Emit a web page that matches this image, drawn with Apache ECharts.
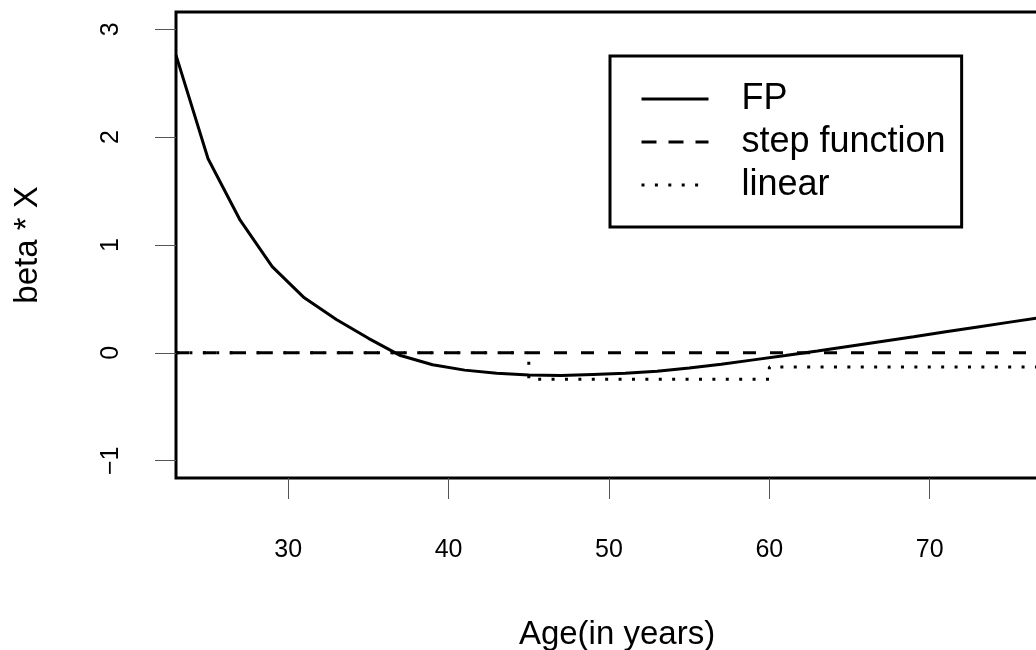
<!DOCTYPE html>
<html>
<head>
<meta charset="utf-8">
<script src="https://cdn.jsdelivr.net/npm/echarts@6/dist/echarts.min.js"></script>
<style>
  html, body { margin: 0; padding: 0; background: #fff; }
  #main { width: 1036px; height: 650px; }
</style>
</head>
<body>
<div id="main"></div>
<script>
// ages where the FP curve was evaluated
var ages = [23, 25, 27, 29, 31, 33, 35, 37, 39, 41, 43, 45, 47, 49, 51, 53, 55, 57, 59, 61, 63, 65, 67, 69, 71, 73, 75, 77, 79];
var fpValues = [2.76, 1.80, 1.23, 0.80, 0.51, 0.31, 0.135, -0.025, -0.11, -0.16, -0.19, -0.205, -0.21, -0.20, -0.19, -0.17, -0.14, -0.105, -0.065, -0.025, 0.018, 0.062, 0.106, 0.15, 0.195, 0.24, 0.285, 0.33, 0.375];
// step function: flat at zero
var stepAges = [23, 79];
var stepValues = [0, 0];
// "linear" curve as drawn (steps at 45 and 60)
var linAges = [23, 45, 45, 60, 60, 79];
var linValues = [0, 0, -0.245, -0.245, -0.13, -0.13];

var xTicks = [30, 40, 50, 60, 70];
var yTicks = [-1, 0, 1, 2, 3];
var seriesNames = ['FP', 'step function', 'linear'];

function pairs(xs, ys) {
    return xs.map(function (x, i) { return [x, ys[i]]; });
}

var font = 'Liberation Sans, Arial, Helvetica, sans-serif';
var dashed = [13, 14];
var dotted = [3, 10.4];

var chart = echarts.init(document.getElementById('main'), null, { renderer: 'canvas' });

var option = {
    backgroundColor: '#ffffff',
    animation: false,
    grid: {
        left: 176,
        top: 12,
        bottom: 172,
        width: 882,   // plot box runs past the right edge of the page
        outerBoundsMode: 'none',
        show: true,
        borderColor: '#000',
        borderWidth: 3,
        backgroundColor: 'transparent'
    },
    legend: {
        data: [
            { name: seriesNames[0], lineStyle: { width: 3, type: 'solid' } },
            { name: seriesNames[1], lineStyle: { width: 3, type: [15, 12] } },
            { name: seriesNames[2], lineStyle: { width: 3, type: dotted } }
        ],
        orient: 'vertical',
        left: 610,
        top: 56,
        selectedMode: false,
        itemWidth: 67,
        itemHeight: 36,
        itemGap: 7,
        padding: [25, 16, 24, 30],
        borderColor: '#000',
        borderWidth: 3,
        backgroundColor: '#fff',
        itemStyle: { color: 'transparent', borderWidth: 0, opacity: 0 },
        lineStyle: { width: 3, color: '#000' },
        textStyle: {
            color: '#000',
            fontFamily: font,
            fontSize: 36,
            lineHeight: 36,
            padding: [0, 0, 0, 28]
        }
    },
    xAxis: {
        type: 'value',
        min: 23,
        max: 78,
        name: 'Age(in years)',
        nameLocation: 'middle',
        nameGap: 140,
        nameTextStyle: { color: '#000', fontFamily: font, fontSize: 33 },
        axisLine: { show: false, onZero: false },
        splitLine: { show: false },
        axisTick: {
            show: true,
            length: 21,
            customValues: xTicks,
            lineStyle: { color: '#555', width: 1 }
        },
        axisLabel: {
            customValues: xTicks,
            margin: 60,
            color: '#000',
            fontFamily: font,
            fontSize: 25
        }
    },
    yAxis: {
        type: 'value',
        min: -1.16,
        max: 3.16,
        name: 'beta * X',
        nameLocation: 'middle',
        nameRotate: 90,
        nameGap: 132,
        nameTextStyle: { color: '#000', fontFamily: font, fontSize: 33 },
        axisLine: { show: false, onZero: false },
        splitLine: { show: false },
        axisTick: {
            show: true,
            length: 21,
            customValues: yTicks,
            lineStyle: { color: '#555', width: 1 }
        },
        axisLabel: {
            customValues: yTicks,
            rotate: 90,
            margin: 52,
            color: '#000',
            fontFamily: font,
            fontSize: 25,
            formatter: function (v) { return String(v).replace('-', '\u2212'); }
        }
    },
    series: [
        {
            name: 'FP',
            type: 'line',
            data: pairs(ages, fpValues),
            symbol: 'none',
            smooth: false,
            lineStyle: { color: '#000', width: 3, type: 'solid' },
            itemStyle: { color: '#000' }
        },
        {
            name: 'step function',
            type: 'line',
            data: pairs(stepAges, stepValues),
            symbol: 'none',
            lineStyle: { color: '#000', width: 3, type: dashed },
            itemStyle: { color: '#000' }
        },
        {
            name: 'linear',
            type: 'line',
            data: pairs(linAges, linValues),
            symbol: 'none',
            lineStyle: { color: '#000', width: 3, type: dotted, cap: 'butt' },
            itemStyle: { color: '#000' }
        }
    ]
};
chart.setOption(option);
</script>
</body>
</html>
